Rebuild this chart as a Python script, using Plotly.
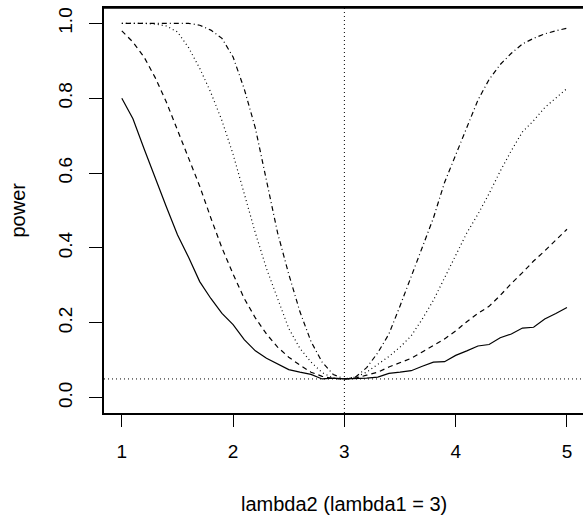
import plotly.graph_objects as go

# lambda2 grid, lambda1 fixed at 3
lambda2 = [round(1 + 0.1 * i, 1) for i in range(41)]

# power curves (four sample sizes)
power_solid = [0.80, 0.745, 0.665, 0.585, 0.51, 0.435, 0.375, 0.31, 0.265, 0.225,
               0.195, 0.155, 0.125, 0.105, 0.09, 0.075, 0.068, 0.062, 0.05, 0.052,
               0.05, 0.05, 0.052, 0.055, 0.065, 0.068, 0.072, 0.084, 0.095, 0.096,
               0.113, 0.125, 0.138, 0.142, 0.16, 0.17, 0.186, 0.188, 0.21, 0.225, 0.241]
power_dash = [0.98, 0.95, 0.91, 0.855, 0.79, 0.715, 0.64, 0.565, 0.48, 0.40,
              0.33, 0.265, 0.213, 0.17, 0.135, 0.108, 0.087, 0.068, 0.057, 0.051,
              0.05, 0.052, 0.06, 0.068, 0.082, 0.094, 0.105, 0.122, 0.14, 0.157,
              0.178, 0.203, 0.225, 0.244, 0.273, 0.305, 0.334, 0.365, 0.392, 0.42, 0.45]
power_dot = [1.0, 1.0, 1.0, 0.998, 0.993, 0.977, 0.935, 0.88, 0.815, 0.74,
             0.65, 0.545, 0.44, 0.345, 0.262, 0.185, 0.132, 0.095, 0.067, 0.052,
             0.05, 0.055, 0.068, 0.088, 0.11, 0.135, 0.165, 0.21, 0.26, 0.32,
             0.38, 0.44, 0.49, 0.545, 0.605, 0.66, 0.71, 0.74, 0.775, 0.80, 0.826]
power_dotdash = [1.0, 1.0, 1.0, 1.0, 1.0, 1.0, 1.0, 0.995, 0.982, 0.96,
                 0.91, 0.825, 0.72, 0.58, 0.44, 0.33, 0.23, 0.15, 0.095, 0.062,
                 0.05, 0.055, 0.08, 0.12, 0.17, 0.245, 0.325, 0.40, 0.48, 0.575,
                 0.65, 0.72, 0.795, 0.85, 0.89, 0.92, 0.945, 0.96, 0.972, 0.98, 0.987]

x_ticks = [1, 2, 3, 4, 5]
y_ticks = [0.0, 0.2, 0.4, 0.6, 0.8, 1.0]
y_labels = ["0.0", "0.2", "0.4", "0.6", "0.8", "1.0"]
alpha = 0.05
lambda1 = 3

curves = [
    (power_solid, "solid"),
    (power_dash, "5px,4px"),
    (power_dot, "1px,3px"),
    (power_dotdash, "1px,3px,5px,3px"),
]

fig = go.Figure()
for yvals, dash in curves:
    fig.add_trace(go.Scatter(x=lambda2, y=yvals, mode="lines",
                             line=dict(color="black", width=1.2, dash=dash),
                             showlegend=False, hoverinfo="skip"))

# reference lines
fig.add_shape(type="line", xref="paper", yref="y", x0=0, x1=1, y0=alpha, y1=alpha,
              line=dict(color="black", width=1, dash="1px,3px"))
fig.add_shape(type="line", xref="x", yref="paper", x0=lambda1, x1=lambda1, y0=0, y1=1,
              line=dict(color="black", width=1, dash="1px,3px"))
# top edge of the box
fig.add_shape(type="line", xref="paper", yref="paper", x0=0, x1=1, y0=1, y1=1,
              line=dict(color="black", width=1.5))

fig.update_layout(
    width=583, height=516,
    margin=dict(l=104, r=0, t=8, b=103),
    plot_bgcolor="white", paper_bgcolor="white",
    font=dict(family="Liberation Sans, Arial, sans-serif", size=19, color="black"),
    xaxis=dict(range=[0.84, 5.144], tickvals=x_ticks, ticks="outside", ticklen=12,
               tickcolor="black", showline=True, linecolor="black", linewidth=1.5,
               mirror=True, showgrid=False, zeroline=False, ticklabelstandoff=8),
    yaxis=dict(range=[-0.041, 1.041], tickvals=y_ticks, ticktext=y_labels,
               ticks="outside", ticklen=13, tickcolor="black", tickangle=-90,
               showline=True, linecolor="black", linewidth=1.5,
               showgrid=False, zeroline=False, ticklabelstandoff=10),
    annotations=[
        dict(text="lambda2 (lambda1 = 3)", xref="paper", yref="paper", x=0.5, y=0,
             xanchor="center", yanchor="middle", yshift=-91, showarrow=False,
             font=dict(size=20)),
        dict(text="power", xref="paper", yref="paper", x=0, y=0.5,
             xanchor="center", yanchor="middle", xshift=-87, textangle=-90,
             showarrow=False, font=dict(size=20)),
    ],
)

# drop the page's default body margin so the figure fills the window exactly
fig.write_html("out.html", config={"displayModeBar": False},
               post_script="document.body.style.margin='0';document.body.style.overflow='hidden';")
